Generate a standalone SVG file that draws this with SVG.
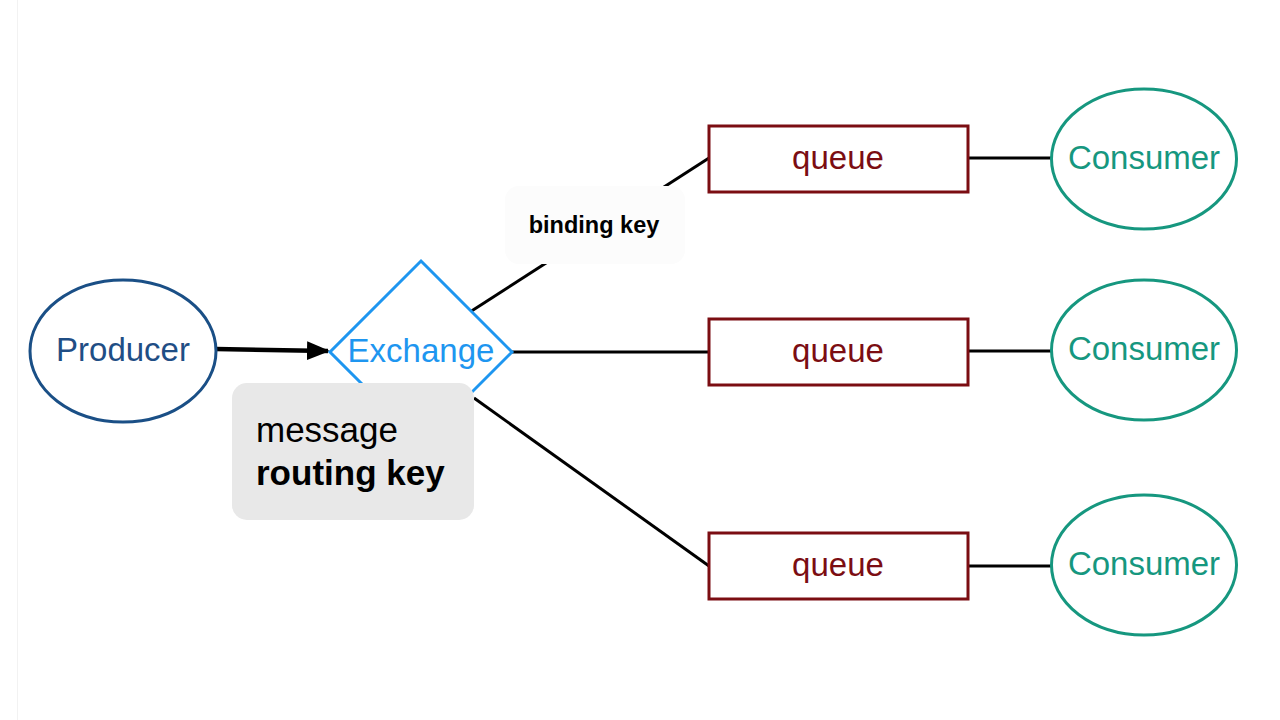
<svg xmlns="http://www.w3.org/2000/svg" width="1280" height="720" viewBox="0 0 1280 720">
<style>
text{font-family:"Liberation Sans",Arial,sans-serif}
.lbl{font-size:33px;text-anchor:middle}
.queue rect{fill:#fff;stroke:#7b0d12;stroke-width:3}
.queue text{fill:#7b0d12}
.consumer ellipse{fill:#fff;stroke:#16977f;stroke-width:3}
.consumer text{fill:#16977f}
.conn line{stroke:#000;stroke-width:3}
.conn line.arrow{stroke-width:4.5}
</style>
<defs>
<marker id="ah" viewBox="0 0 23 19" refX="21" refY="9.5" markerWidth="23" markerHeight="19" markerUnits="userSpaceOnUse" orient="auto">
<path d="M0,0 L23,9.5 L0,19 z" fill="#000"/>
</marker>
</defs>
<rect width="1280" height="720" fill="#fff"/>
<line x1="17.5" y1="0" x2="17.5" y2="720" stroke="#f2f2f2" stroke-width="1"/>
<g id="connectors" class="conn">
<line class="arrow" x1="216" y1="349" x2="328" y2="351" marker-end="url(#ah)"/>
<line x1="470" y1="312" x2="709" y2="158"/>
<line x1="512" y1="352" x2="709" y2="352"/>
<line x1="474" y1="398" x2="709" y2="566"/>
<line x1="968" y1="158" x2="1052" y2="158"/>
<line x1="968" y1="351" x2="1052" y2="351"/>
<line x1="968" y1="566" x2="1052" y2="566"/>
</g>
<g id="producer">
<ellipse cx="123" cy="351" rx="93" ry="71" fill="#fff" stroke="#1a4f86" stroke-width="3"/>
<text class="lbl" x="123" y="361" fill="#1f4e85">Producer</text>
</g>
<g id="exchange">
<polygon points="421,261 512,352 421,443 330,352" fill="#fff" stroke="#1e96f0" stroke-width="3"/>
<text class="lbl" x="421" y="362" fill="#1e96f0">Exchange</text>
</g>
<g id="message-label">
<rect x="232" y="383" width="242" height="137" rx="15" fill="#e8e8e8"/>
<text x="256" y="442" font-size="35px" fill="#000">message</text>
<text x="256" y="485" font-size="35px" font-weight="bold" fill="#000">routing key</text>
</g>
<g id="binding-key-label">
<rect x="505" y="186" width="180" height="78" rx="14" fill="#fcfcfc"/>
<text x="594" y="233" font-size="23.5px" font-weight="bold" text-anchor="middle" fill="#000">binding key</text>
</g>
<g id="queue1" class="queue">
<rect x="709" y="126" width="259" height="66"/>
<text class="lbl" x="838" y="169">queue</text>
</g>
<g id="queue2" class="queue">
<rect x="709" y="319" width="259" height="66"/>
<text class="lbl" x="838" y="362">queue</text>
</g>
<g id="queue3" class="queue">
<rect x="709" y="533" width="259" height="66"/>
<text class="lbl" x="838" y="576">queue</text>
</g>
<g id="consumer1" class="consumer">
<ellipse cx="1144" cy="159" rx="92.5" ry="70"/>
<text class="lbl" x="1144" y="169">Consumer</text>
</g>
<g id="consumer2" class="consumer">
<ellipse cx="1144" cy="350" rx="92.5" ry="70"/>
<text class="lbl" x="1144" y="360">Consumer</text>
</g>
<g id="consumer3" class="consumer">
<ellipse cx="1144" cy="565" rx="92.5" ry="70"/>
<text class="lbl" x="1144" y="575">Consumer</text>
</g>
</svg>
